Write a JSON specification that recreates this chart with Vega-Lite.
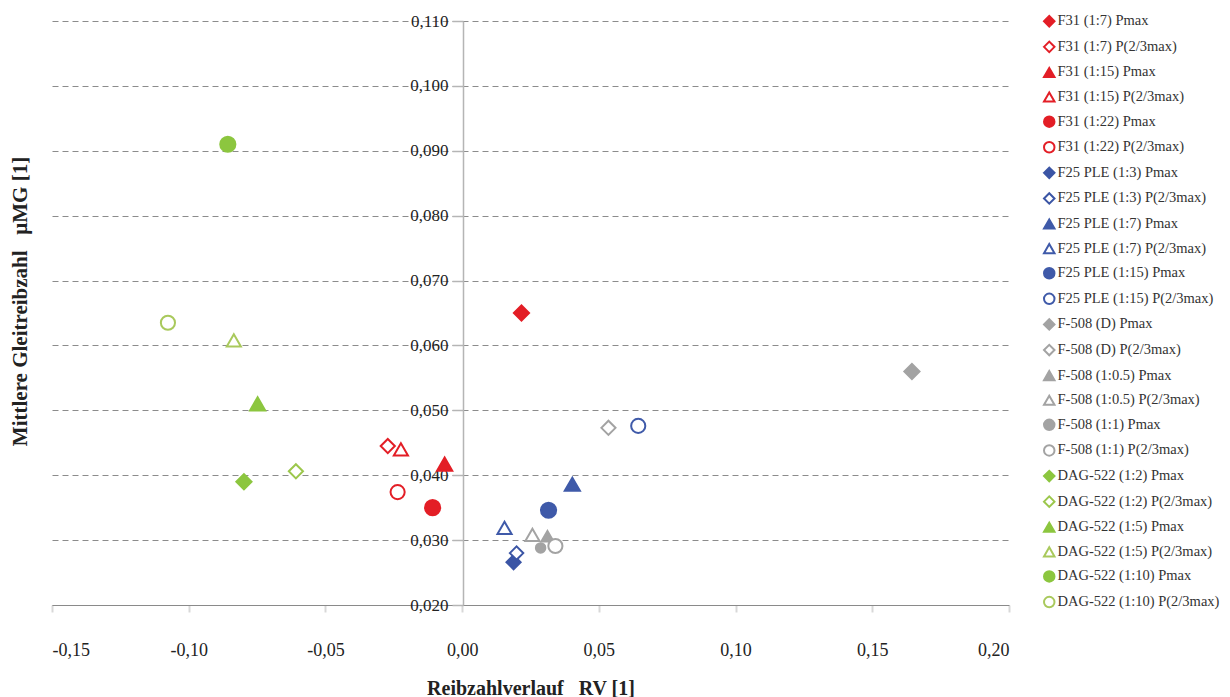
{
  "$schema": "https://vega.github.io/schema/vega-lite/v6.json",
  "width": 957,
  "height": 584,
  "autosize": {"type": "none"},
  "padding": {"left": 52, "top": 21, "right": 221, "bottom": 92},
  "background": "white",
  "config": {
    "view": {"stroke": null},
    "font": "Liberation Serif"
  },
  "data": {
    "values": [
      {"series": "F31 (1:7) Pmax", "x": 0.0217, "y": 0.0650, "sz": 230},
      {"series": "F31 (1:7) P(2/3max)", "x": -0.0272, "y": 0.0445, "sz": 200},
      {"series": "F31 (1:15) Pmax", "x": -0.0064, "y": 0.0417, "sz": 230},
      {"series": "F31 (1:15) P(2/3max)", "x": -0.0224, "y": 0.0440, "sz": 200},
      {"series": "F31 (1:22) Pmax", "x": -0.0108, "y": 0.0350, "sz": 230},
      {"series": "F31 (1:22) P(2/3max)", "x": -0.0236, "y": 0.0374, "sz": 200},
      {"series": "F25 PLE (1:3) Pmax", "x": 0.0188, "y": 0.0266, "sz": 200},
      {"series": "F25 PLE (1:3) P(2/3max)", "x": 0.0199, "y": 0.0280, "sz": 180},
      {"series": "F25 PLE (1:7) Pmax", "x": 0.0403, "y": 0.0386, "sz": 230},
      {"series": "F25 PLE (1:7) P(2/3max)", "x": 0.0155, "y": 0.0319, "sz": 200},
      {"series": "F25 PLE (1:15) Pmax", "x": 0.0316, "y": 0.0346, "sz": 230},
      {"series": "F25 PLE (1:15) P(2/3max)", "x": 0.0644, "y": 0.0476, "sz": 200},
      {"series": "F-508 (D) Pmax", "x": 0.1645, "y": 0.0560, "sz": 230},
      {"series": "F-508 (D) P(2/3max)", "x": 0.0535, "y": 0.0473, "sz": 200},
      {"series": "F-508 (1:0.5) Pmax", "x": 0.0312, "y": 0.0306, "sz": 150},
      {"series": "F-508 (1:0.5) P(2/3max)", "x": 0.0257, "y": 0.0308, "sz": 200},
      {"series": "F-508 (1:1) Pmax", "x": 0.0287, "y": 0.0288, "sz": 90},
      {"series": "F-508 (1:1) P(2/3max)", "x": 0.0341, "y": 0.0291, "sz": 200},
      {"series": "DAG-522 (1:2) Pmax", "x": -0.0798, "y": 0.0390, "sz": 230},
      {"series": "DAG-522 (1:2) P(2/3max)", "x": -0.0608, "y": 0.0406, "sz": 200},
      {"series": "DAG-522 (1:5) Pmax", "x": -0.0748, "y": 0.0510, "sz": 230},
      {"series": "DAG-522 (1:5) P(2/3max)", "x": -0.0835, "y": 0.0608, "sz": 200},
      {"series": "DAG-522 (1:10) Pmax", "x": -0.0857, "y": 0.0910, "sz": 230},
      {"series": "DAG-522 (1:10) P(2/3max)", "x": -0.1076, "y": 0.0635, "sz": 200}
    ]
  },
  "mark": {"type": "point", "filled": true, "strokeWidth": 2, "opacity": 1},
  "encoding": {
    "x": {
      "field": "x", "type": "quantitative",
      "scale": {"domain": [-0.15, 0.2], "nice": false, "zero": false},
      "axis": {
        "values": [-0.15, -0.1, -0.05, 0, 0.05, 0.1, 0.15, 0.2],
        "labelExpr": "replace(replace(format(datum.value, '.2f'), '.', ','), '\u2212', '-')",
        "grid": false,
        "domainColor": "#8a8a8a",
        "domainWidth": 1.2,
        "tickColor": "#d8d8d8",
        "tickWidth": 2,
        "tickSize": 7,
        "labelPadding": 29,
        "labelFont": "Liberation Serif",
        "labelFontSize": 18,
        "labelColor": "#222222",
        "title": "Reibzahlverlauf\u00a0\u00a0\u00a0RV [1]",
        "titleFont": "Liberation Serif",
        "titleFontSize": 20,
        "titleFontWeight": "bold",
        "titleColor": "#222222",
        "titleBaseline": "middle",
        "titleY": 83
      }
    },
    "y": {
      "field": "y", "type": "quantitative",
      "scale": {"domain": [0.02, 0.11], "nice": false, "zero": false},
      "axis": {
        "offset": -411,
        "values": [0.02, 0.03, 0.04, 0.05, 0.06, 0.07, 0.08, 0.09, 0.1, 0.11],
        "labelExpr": "replace(format(datum.value, '.3f'), '.', ',')",
        "grid": true,
        "gridDash": [6, 4],
        "gridColor": "#8c8c8c",
        "gridWidth": 1,
        "domainColor": "#b5b5b5",
        "domainWidth": 1.5,
        "tickColor": "#b5b5b5",
        "tickWidth": 1.5,
        "tickSize": 11,
        "labelPadding": 4,
        "labelFont": "Liberation Serif",
        "labelFontSize": 17,
        "labelColor": "#222222",
        "title": "Mittlere Gleitreibzahl\u00a0\u00a0\u00a0\u03bcMG [1]",
        "titleFont": "Liberation Serif",
        "titleFontSize": 21,
        "titleFontWeight": "bold",
        "titleColor": "#222222",
        "titleX": -443,
        "titleY": 280,
        "titleAngle": -90,
        "titleBaseline": "middle",
        "titleAlign": "center"
      }
    },
    "shape": {
      "field": "series", "type": "nominal",
      "scale": {
        "domain": ["F31 (1:7) Pmax", "F31 (1:7) P(2/3max)", "F31 (1:15) Pmax", "F31 (1:15) P(2/3max)", "F31 (1:22) Pmax", "F31 (1:22) P(2/3max)", "F25 PLE (1:3) Pmax", "F25 PLE (1:3) P(2/3max)", "F25 PLE (1:7) Pmax", "F25 PLE (1:7) P(2/3max)", "F25 PLE (1:15) Pmax", "F25 PLE (1:15) P(2/3max)", "F-508 (D) Pmax", "F-508 (D) P(2/3max)", "F-508 (1:0.5) Pmax", "F-508 (1:0.5) P(2/3max)", "F-508 (1:1) Pmax", "F-508 (1:1) P(2/3max)", "DAG-522 (1:2) Pmax", "DAG-522 (1:2) P(2/3max)", "DAG-522 (1:5) Pmax", "DAG-522 (1:5) P(2/3max)", "DAG-522 (1:10) Pmax", "DAG-522 (1:10) P(2/3max)"],
        "range": ["diamond", "diamond", "triangle-up", "triangle-up", "circle", "circle", "diamond", "diamond", "triangle-up", "triangle-up", "circle", "circle", "diamond", "diamond", "triangle-up", "triangle-up", "circle", "circle", "diamond", "diamond", "triangle-up", "triangle-up", "circle", "circle"]
      },
      "legend": {
        "title": null,
        "orient": "none",
        "legendX": 990,
        "legendY": -7,
        "labelFont": "Liberation Serif",
        "labelFontSize": 14.5,
        "labelColor": "#333333",
        "labelLimit": 400,
        "symbolSize": 110,
        "symbolStrokeWidth": 2,
        "rowPadding": 6.6,
        "labelOffset": 1,
        "symbolOffset": 0
      }
    },
    "fill": {
      "field": "series", "type": "nominal",
      "scale": {
        "domain": ["F31 (1:7) Pmax", "F31 (1:7) P(2/3max)", "F31 (1:15) Pmax", "F31 (1:15) P(2/3max)", "F31 (1:22) Pmax", "F31 (1:22) P(2/3max)", "F25 PLE (1:3) Pmax", "F25 PLE (1:3) P(2/3max)", "F25 PLE (1:7) Pmax", "F25 PLE (1:7) P(2/3max)", "F25 PLE (1:15) Pmax", "F25 PLE (1:15) P(2/3max)", "F-508 (D) Pmax", "F-508 (D) P(2/3max)", "F-508 (1:0.5) Pmax", "F-508 (1:0.5) P(2/3max)", "F-508 (1:1) Pmax", "F-508 (1:1) P(2/3max)", "DAG-522 (1:2) Pmax", "DAG-522 (1:2) P(2/3max)", "DAG-522 (1:5) Pmax", "DAG-522 (1:5) P(2/3max)", "DAG-522 (1:10) Pmax", "DAG-522 (1:10) P(2/3max)"],
        "range": ["#e31e26", "#ffffff", "#e31e26", "#ffffff", "#e31e26", "#ffffff", "#3b55a5", "#ffffff", "#3f5aa9", "#ffffff", "#3f5aa9", "#ffffff", "#a3a3a3", "#ffffff", "#a3a3a3", "#ffffff", "#a3a3a3", "#ffffff", "#8cc63f", "#ffffff", "#8cc63f", "#ffffff", "#8cc63f", "#ffffff"]
      }
    },
    "stroke": {
      "field": "series", "type": "nominal",
      "scale": {
        "domain": ["F31 (1:7) Pmax", "F31 (1:7) P(2/3max)", "F31 (1:15) Pmax", "F31 (1:15) P(2/3max)", "F31 (1:22) Pmax", "F31 (1:22) P(2/3max)", "F25 PLE (1:3) Pmax", "F25 PLE (1:3) P(2/3max)", "F25 PLE (1:7) Pmax", "F25 PLE (1:7) P(2/3max)", "F25 PLE (1:15) Pmax", "F25 PLE (1:15) P(2/3max)", "F-508 (D) Pmax", "F-508 (D) P(2/3max)", "F-508 (1:0.5) Pmax", "F-508 (1:0.5) P(2/3max)", "F-508 (1:1) Pmax", "F-508 (1:1) P(2/3max)", "DAG-522 (1:2) Pmax", "DAG-522 (1:2) P(2/3max)", "DAG-522 (1:5) Pmax", "DAG-522 (1:5) P(2/3max)", "DAG-522 (1:10) Pmax", "DAG-522 (1:10) P(2/3max)"],
        "range": ["#e31e26", "#e31e26", "#e31e26", "#e31e26", "#e31e26", "#e31e26", "#3b55a5", "#3b55a5", "#3f5aa9", "#3f5aa9", "#3f5aa9", "#3f5aa9", "#a3a3a3", "#a3a3a3", "#a3a3a3", "#a3a3a3", "#a3a3a3", "#a3a3a3", "#8cc63f", "#9cc74c", "#8cc63f", "#a9c95c", "#8cc63f", "#a9c95c"]
      }
    },
    "size": {"field": "sz", "type": "quantitative", "scale": null, "legend": null}
  }
}
